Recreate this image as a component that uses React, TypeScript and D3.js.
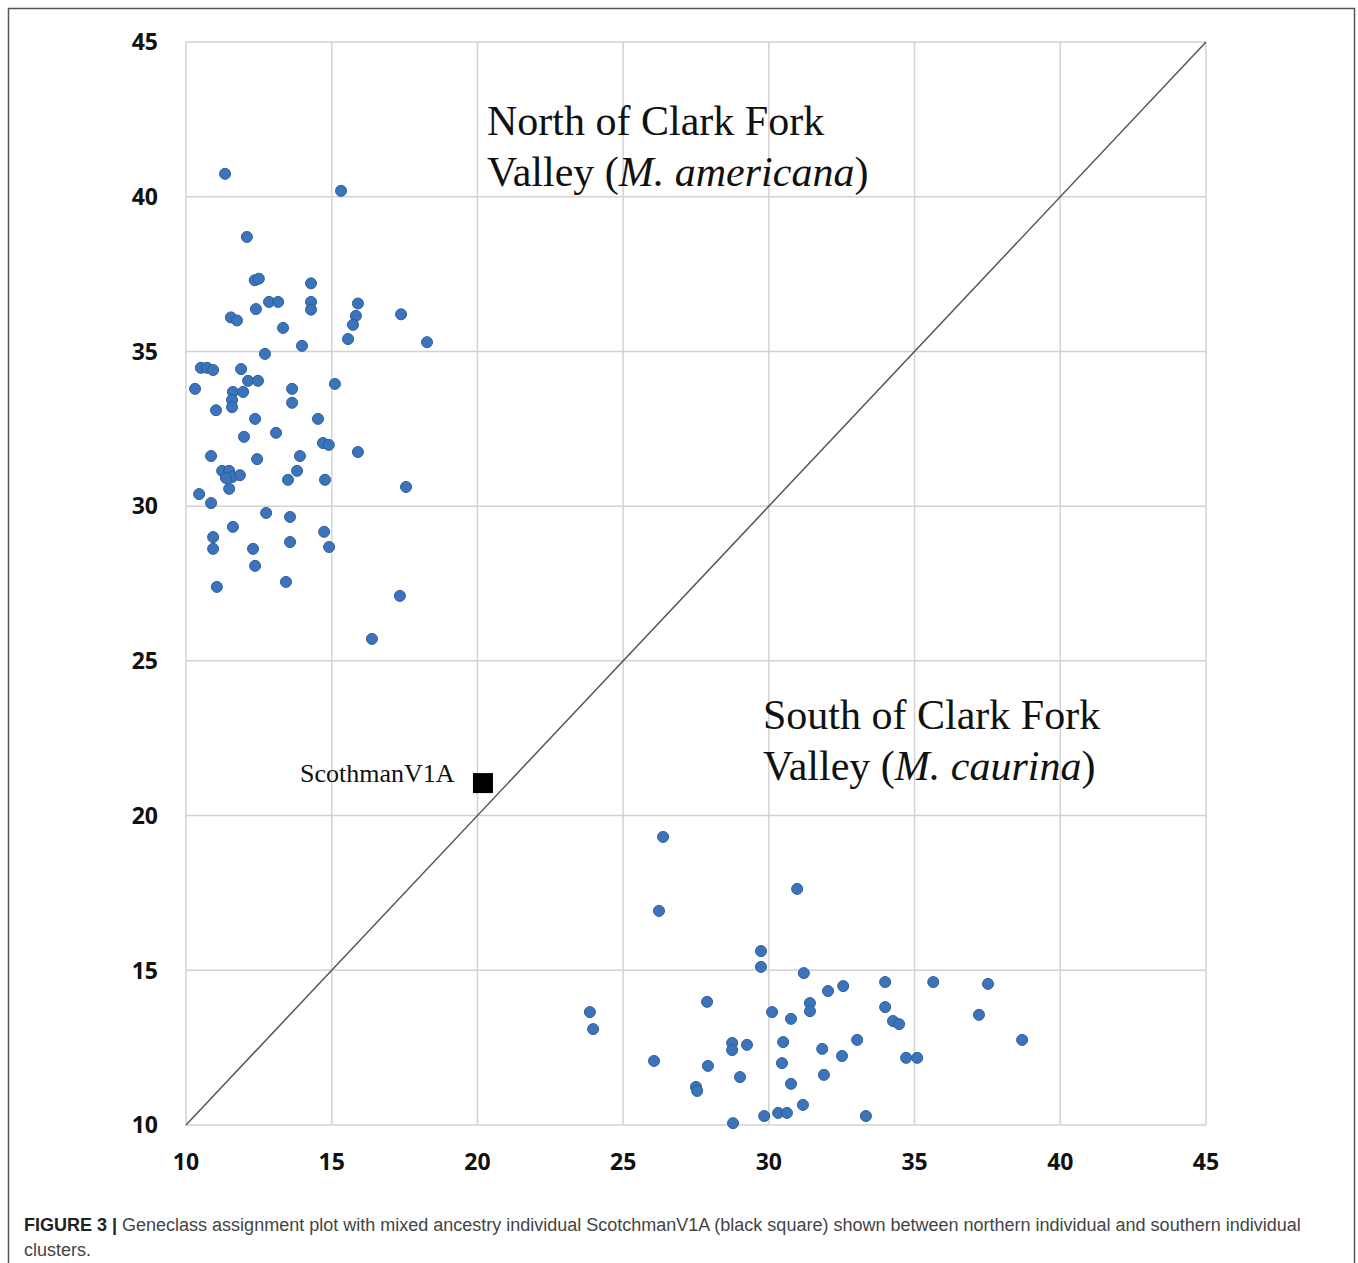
import React, { useEffect, useRef } from 'react'
import * as d3 from 'd3'

// north cluster (M. americana)
const northX = [11.34, 15.32, 12.09, 12.36, 12.5, 14.29, 12.85, 13.16, 14.29, 14.29, 15.9, 12.4, 11.54, 11.75, 13.33, 15.83, 15.73, 15.56, 17.38, 18.27, 13.98, 12.71, 10.51, 10.72, 10.93, 11.89, 12.13, 12.47, 10.31, 11.61, 11.96, 13.64, 15.11, 11.58, 11.58, 13.64, 11.03, 12.37, 14.53, 13.09, 11.99, 14.7, 14.9, 10.86, 12.44, 13.91, 15.9, 11.24, 11.48, 11.58, 11.85, 11.37, 13.81, 13.5, 14.77, 11.48, 10.45, 10.86, 17.55, 12.75, 13.57, 11.61, 10.93, 10.93, 13.57, 14.74, 14.91, 12.3, 12.37, 11.06, 13.43, 17.34, 16.38]
const northY = [40.74, 40.19, 38.7, 37.3, 37.35, 37.2, 36.6, 36.6, 36.6, 36.35, 36.55, 36.37, 36.1, 36.0, 35.76, 36.15, 35.86, 35.4, 36.2, 35.3, 35.18, 34.92, 34.47, 34.47, 34.4, 34.43, 34.05, 34.05, 33.79, 33.69, 33.69, 33.79, 33.95, 33.43, 33.2, 33.34, 33.1, 32.82, 32.82, 32.37, 32.24, 32.04, 31.98, 31.62, 31.52, 31.62, 31.75, 31.14, 31.14, 30.94, 31.0, 30.91, 31.14, 30.85, 30.85, 30.56, 30.39, 30.1, 30.62, 29.78, 29.65, 29.33, 29.0, 28.62, 28.84, 29.17, 28.68, 28.62, 28.07, 27.39, 27.55, 27.1, 25.71]

// south cluster (M. caurina)
const southX = [26.37, 26.23, 30.97, 29.73, 29.73, 23.86, 23.97, 27.88, 30.11, 30.76, 30.49, 28.74, 28.74, 29.25, 26.06, 27.91, 30.45, 29.01, 30.76, 27.5, 27.54, 28.77, 29.84, 30.32, 30.62, 31.2, 31.41, 31.41, 32.03, 32.55, 33.99, 33.99, 34.26, 34.47, 35.64, 37.52, 37.21, 38.69, 31.83, 33.03, 32.51, 34.71, 35.09, 31.89, 31.17, 33.33]
const southY = [19.31, 16.92, 17.63, 15.62, 15.11, 13.65, 13.1, 13.98, 13.65, 13.43, 12.68, 12.65, 12.42, 12.59, 12.07, 11.91, 12.0, 11.55, 11.33, 11.23, 11.1, 10.06, 10.29, 10.39, 10.39, 14.91, 13.94, 13.68, 14.33, 14.49, 14.62, 13.81, 13.36, 13.26, 14.62, 14.56, 13.56, 12.75, 12.46, 12.75, 12.23, 12.17, 12.17, 11.62, 10.65, 10.29]

const mixed = { name: 'ScothmanV1A', x: 20.19, y: 21.05 }
const ticks = [10, 15, 20, 25, 30, 35, 40, 45]

const captionBold = 'FIGURE 3 |'
const captionLine1 = ' Geneclass assignment plot with mixed ancestry individual ScotchmanV1A (black square) shown between northern individual and southern individual'
const captionLine2 = 'clusters.'

const W = 1358
const H = 1263

export default function App() {
  const svgRef = useRef<SVGSVGElement>(null)

  useEffect(() => {
    if (!svgRef.current) return
    const svg = d3.select(svgRef.current)
    svg.selectAll('*').remove()

    const x = d3.scaleLinear().domain([10, 45]).range([186, 1206])
    const y = d3.scaleLinear().domain([10, 45]).range([1125, 42])

    // figure frame (open at the bottom)
    svg.append('path')
      .attr('d', `M8.5,${H + 5} V8.5 H1354.5 V${H + 5}`)
      .style('fill', 'none')
      .style('stroke', '#555')
      .style('stroke-width', 1.5)

    const grid = svg.append('g')
    grid.selectAll('.gx')
      .data(ticks)
      .enter()
      .append('line')
      .attr('x1', d => x(d))
      .attr('x2', d => x(d))
      .attr('y1', y(10))
      .attr('y2', y(45))
      .style('stroke', '#d2d2d2')
      .style('stroke-width', 1.5)
    grid.selectAll('.gy')
      .data(ticks)
      .enter()
      .append('line')
      .attr('x1', x(10))
      .attr('x2', x(45))
      .attr('y1', d => y(d))
      .attr('y2', d => y(d))
      .style('stroke', '#d2d2d2')
      .style('stroke-width', 1.5)

    const tickFont = '"Open Sans", "DejaVu Sans", sans-serif'
    svg.append('g').selectAll('text')
      .data(ticks)
      .enter()
      .append('text')
      .attr('x', 158)
      .attr('y', d => y(d))
      .attr('dy', '0.36em')
      .attr('text-anchor', 'end')
      .style('font-family', tickFont)
      .style('font-weight', 700)
      .style('font-size', '23px')
      .style('fill', '#111')
      .text(d => d)
    svg.append('g').selectAll('text')
      .data(ticks)
      .enter()
      .append('text')
      .attr('x', d => x(d))
      .attr('y', 1170)
      .attr('text-anchor', 'middle')
      .style('font-family', tickFont)
      .style('font-weight', 700)
      .style('font-size', '23px')
      .style('fill', '#111')
      .text(d => d)

    // 1:1 line
    svg.append('line')
      .attr('x1', x(10))
      .attr('y1', y(10))
      .attr('x2', x(45))
      .attr('y2', y(45))
      .style('stroke', '#555')
      .style('stroke-width', 1.5)

    const pts = [
      ...northX.map((v, i) => ({ x: v, y: northY[i] })),
      ...southX.map((v, i) => ({ x: v, y: southY[i] })),
    ]
    svg.append('g').selectAll('circle')
      .data(pts)
      .enter()
      .append('circle')
      .attr('cx', d => x(d.x))
      .attr('cy', d => y(d.y))
      .attr('r', 5.5)
      .style('fill', '#3b74bb')
      .style('stroke', '#2d5e9c')
      .style('stroke-width', 1)

    svg.append('rect')
      .attr('x', x(mixed.x) - 10)
      .attr('y', y(mixed.y) - 10)
      .attr('width', 20)
      .attr('height', 20)
      .style('fill', '#000')

    const serif = '"Liberation Serif", "Times New Roman", serif'
    svg.append('text')
      .attr('x', 300)
      .attr('y', 782)
      .style('font-family', serif)
      .style('font-size', '26px')
      .style('fill', '#111')
      .text(mixed.name)

    const label = (x0: number, y0: number, region: string, species: string) => {
      svg.append('text')
        .attr('x', x0)
        .attr('y', y0)
        .style('font-family', serif)
        .style('font-size', '42px')
        .style('fill', '#111')
        .text(region)
      const t2 = svg.append('text')
        .attr('x', x0)
        .attr('y', y0 + 51)
        .style('font-family', serif)
        .style('font-size', '42px')
        .style('fill', '#111')
      t2.append('tspan').text('Valley (')
      t2.append('tspan').style('font-style', 'italic').text(species)
      t2.append('tspan').text(')')
    }
    label(487, 135, 'North of Clark Fork', 'M. americana')
    label(763, 729, 'South of Clark Fork', 'M. caurina')

    const cap = svg.append('text')
      .attr('x', 24)
      .attr('y', 1231)
      .style('font-family', '"Liberation Sans", Arial, sans-serif')
      .style('font-size', '18px')
      .attr('xml:space', 'preserve')
    cap.append('tspan').style('font-weight', 700).style('fill', '#222').text(captionBold)
    cap.append('tspan').style('fill', '#444').text(captionLine1)
    svg.append('text')
      .attr('x', 24)
      .attr('y', 1256)
      .style('font-family', '"Liberation Sans", Arial, sans-serif')
      .style('font-size', '18px')
      .style('fill', '#444')
      .text(captionLine2)
  }, [])

  return (
    <div style={{ position: 'absolute', left: 0, top: 0, width: W, height: H, background: '#fff' }}>
      <svg ref={svgRef} width={W} height={H} style={{ display: 'block' }}></svg>
    </div>
  )
}
